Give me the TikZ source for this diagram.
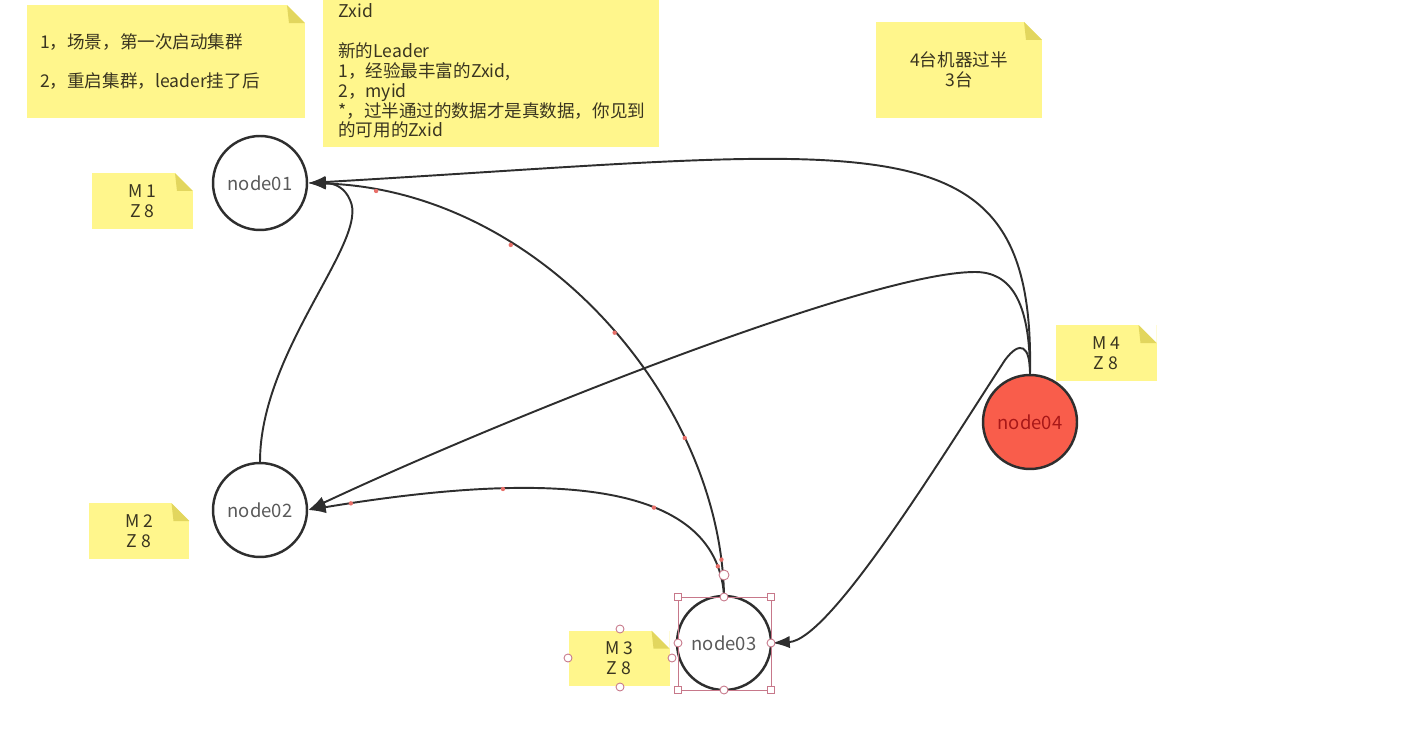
\documentclass[tikz,border=0pt]{standalone}
\usepackage{fontspec}
\setmainfont{Noto Sans CJK SC}
\usetikzlibrary{arrows.meta}
\definecolor{notey}{HTML}{FFF68C}
\definecolor{notefold}{HTML}{E2D65E}
\definecolor{linegray}{HTML}{2E2E2E}
\definecolor{nodetxt}{HTML}{5A5A5A}
\definecolor{notetxt}{HTML}{3A3520}
\definecolor{leaderred}{HTML}{F95D4B}
\definecolor{leadertxt}{HTML}{A81818}
\definecolor{selpink}{HTML}{C7788A}
\definecolor{handred}{HTML}{E8706A}

\begin{document}
\begin{tikzpicture}[x=0.02cm, y=-0.02cm,
  server/.style={circle, draw=linegray, line width=1.4pt, fill=white, minimum size=1.88cm, inner sep=0pt,
    font=\fontsize{10.5}{12}\selectfont\color{nodetxt}},
  leader/.style={server, fill=leaderred, font=\fontsize{10.5}{12}\selectfont\color{leadertxt}},
  note/.style={rectangle, fill=notey, inner sep=0pt, align=center,
    font=\fontsize{10}{11.34}\selectfont\color{notetxt},
    path picture={
      \fill[white] ([xshift=-0.36cm]path picture bounding box.north east) -- (path picture bounding box.north east)
        -- ([yshift=-0.36cm]path picture bounding box.north east) -- cycle;
      \fill[notefold] ([xshift=-0.36cm]path picture bounding box.north east) -- ([yshift=-0.36cm]path picture bounding box.north east)
        -- ([xshift=-0.32cm,yshift=-0.36cm]path picture bounding box.north east) -- cycle;}},
  smallnote/.style={note, minimum width=2.02cm, minimum height=1.12cm},
  notetext/.style={inner sep=0pt, align=left, font=\fontsize{10}{11.34}\selectfont\color{notetxt}},
  vote/.style={-{Latex[length=10pt,width=7pt]}, draw=linegray, line width=1.1pt},
  handle/.style={draw=selpink, fill=white, line width=0.5pt},
]
\useasboundingbox (0,0) rectangle (1419,739);

% sticky notes
\node[note, minimum width=5.56cm, minimum height=2.26cm, text width=5.04cm, align=left] (scene) at (166,61.5)
  {1，场景，第一次启动集群\\[0.4cm]2，重启集群，leader挂了后};
\node[note, minimum width=6.72cm, minimum height=3.74cm] (rule) at (491,53.5) {};
\node[notetext, anchor=north west] (ruletext) at (338,3)
  {Zxid\\[0.4cm]新的Leader\\1，经验最丰富的Zxid,\\2，myid\\*，过半通过的数据才是真数据，你见到\\的可用的Zxid};
\node[note, minimum width=3.32cm, minimum height=1.92cm] (quorum) at (959,70) {4台机器过半\\3台};

\node[smallnote] (m1) at (142.5,201) {M 1\\Z 8};
\node[smallnote] (m2) at (139,531) {M 2\\Z 8};
\node[smallnote] (m3) at (619,658.5) {M 3\\Z 8};
\node[smallnote] (m4) at (1106,353) {M 4\\Z 8};

% servers
\node[server] (n1) at (260,183) {node01};
\node[server] (n2) at (260,510) {node02};
\node[server] (n3) at (724,643) {node03};
\node[leader] (n4) at (1030,422) {node04};

% votes
\draw[vote] (n4.north) .. controls (1035,110) and (880,150) .. (n1.east);
\draw[vote] (n4.north) .. controls (1030,300) and (1010,272) .. (975,272)
  .. controls (870,272) and (500,420) .. (n2.east);
\draw[vote] (n4.north) .. controls (1030,345) and (1020,340) .. (1005,360)
  .. controls (940,460) and (830,640) .. (n3.east);
\draw[vote] (n3.north) .. controls (720,400) and (540,190) .. (n1.east)
  coordinate[pos=0.06] (a1) coordinate[pos=0.27] (a2) coordinate[pos=0.47] (a3)
  coordinate[pos=0.68] (a4) coordinate[pos=0.9] (a5);
\draw[vote] (n3.north) .. controls (715,480) and (550,470) .. (n2.east)
  coordinate[pos=0.09] (b1) coordinate[pos=0.37] (b2) coordinate[pos=0.7] (b3)
  coordinate[pos=0.94] (b4);
\draw[vote] (n2.north) .. controls (260,350) and (370,240) .. (350,200)
  .. controls (345,188) and (335,183) .. (n1.east);

% curve handles
\foreach \p in {a1,a2,a3,a4,a5,b1,b2,b3,b4}
  \fill[handred] (\p) circle (2.2);

% selection of node03
\draw[selpink, line width=0.5pt] (678,597) rectangle (771,690);
\foreach \p in {(678,597),(771,597),(678,690),(771,690)}
  \draw[handle] \p ++(-3.5,-3.5) rectangle ++(7,7);
\foreach \p in {(724,597),(678,643),(771,643),(724,690),(620,629),(568,658),(672,658),(620,687)}
  \draw[handle] \p circle (4);
\draw[handle] (724,575) circle (5);
\end{tikzpicture}
\end{document}
